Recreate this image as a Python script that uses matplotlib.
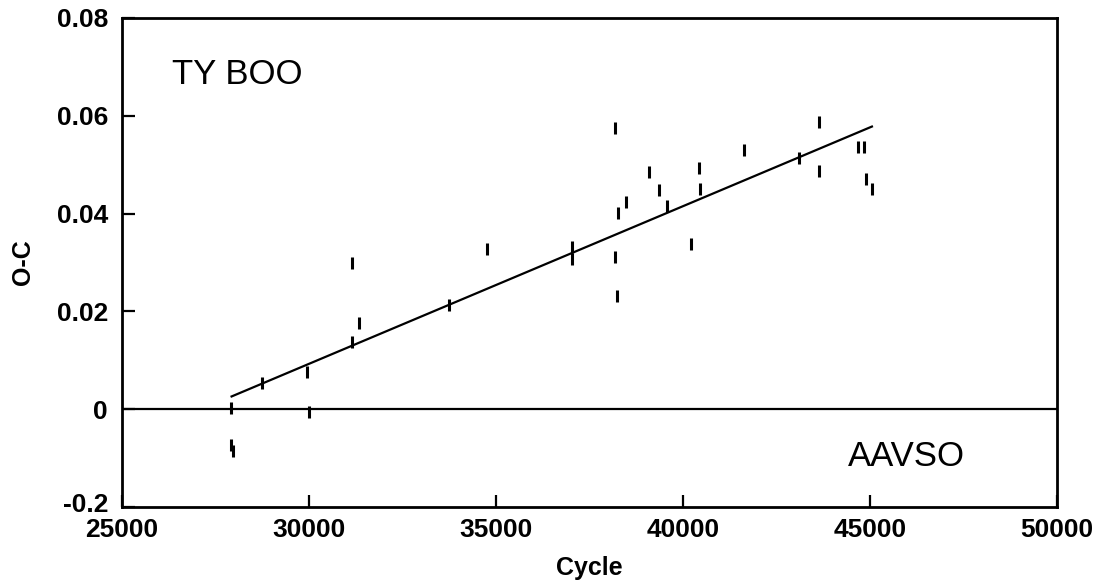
import matplotlib.pyplot as plt
import matplotlib.transforms as mtransforms

# O-C hodnoty
cycle = [27906, 27920, 27960, 28735, 29955, 29992, 31142, 31158, 31337,
         33751, 34751, 37040, 37040, 38182, 38182, 38227, 38270, 38476,
         39090, 39358, 39563, 40206, 40428, 40455, 41631, 43110, 43645,
         43645, 44688, 44848, 44893, 45045]
oc = [0.0003, -0.0074, -0.0085, 0.0053, 0.0077, -0.0005, 0.0298, 0.0137,
      0.0176, 0.0214, 0.0327, 0.0307, 0.0332, 0.0576, 0.0312, 0.0231,
      0.0401, 0.0423, 0.0486, 0.0448, 0.0416, 0.0338, 0.0494, 0.0450,
      0.0531, 0.0513, 0.0588, 0.0488, 0.0537, 0.0537, 0.0470, 0.0451]

# primka fitu
fit_cycle = [27930, 45050]
fit_oc = [0.0026, 0.0578]

yticks = [-0.02, 0, 0.02, 0.04, 0.06, 0.08]
ytick_labels = ['-0.2', '0', '0.02', '0.04', '0.06', '0.08']
xticks = [25000, 30000, 35000, 40000, 45000, 50000]

plt.rcParams['font.family'] = ['Liberation Sans', 'DejaVu Sans']

fig = plt.figure(figsize=(11.04, 5.88), dpi=100)
ax = fig.add_axes([0.1105, 0.1378, 0.847, 0.8316])

ax.axhline(0, color='black', lw=1.6)
ax.plot(fit_cycle, fit_oc, color='black', lw=1.6)
ax.plot(cycle, oc, linestyle='none', marker='|', markersize=8.5,
        markeredgewidth=2.2, color='black')

ax.set_xlim(25000, 50000)
ax.set_ylim(-0.02, 0.08)
ax.set_xticks(xticks)
ax.set_xticklabels([str(t) for t in xticks])
ax.set_yticks(yticks)
ax.set_yticklabels(ytick_labels)
ax.tick_params(direction='in', length=9, width=1.6, labelsize=19)
ax.tick_params(axis='x', pad=8)
ax.tick_params(axis='y', pad=10)
for lab in ax.get_xticklabels() + ax.get_yticklabels():
    lab.set_fontweight('bold')
for s in ax.spines.values():
    s.set_linewidth(2)

# spodni popisek osy y trochu nahoru, at se nedotyka 25000
low = ax.get_yticklabels()[0]
low.set_transform(low.get_transform() +
                  mtransforms.ScaledTranslation(0, 3 / 72, fig.dpi_scale_trans))

ax.set_xlabel('Cycle', fontsize=18, fontweight='bold', labelpad=10)
ax.set_ylabel('O-C', fontsize=18, fontweight='bold', labelpad=16)

ax.text(26330, 0.0685, 'TY BOO', fontsize=25, va='center', ha='left')
ax.text(44400, -0.0096, 'AAVSO', fontsize=25, va='center', ha='left')

fig.savefig('out.png', dpi=100)
